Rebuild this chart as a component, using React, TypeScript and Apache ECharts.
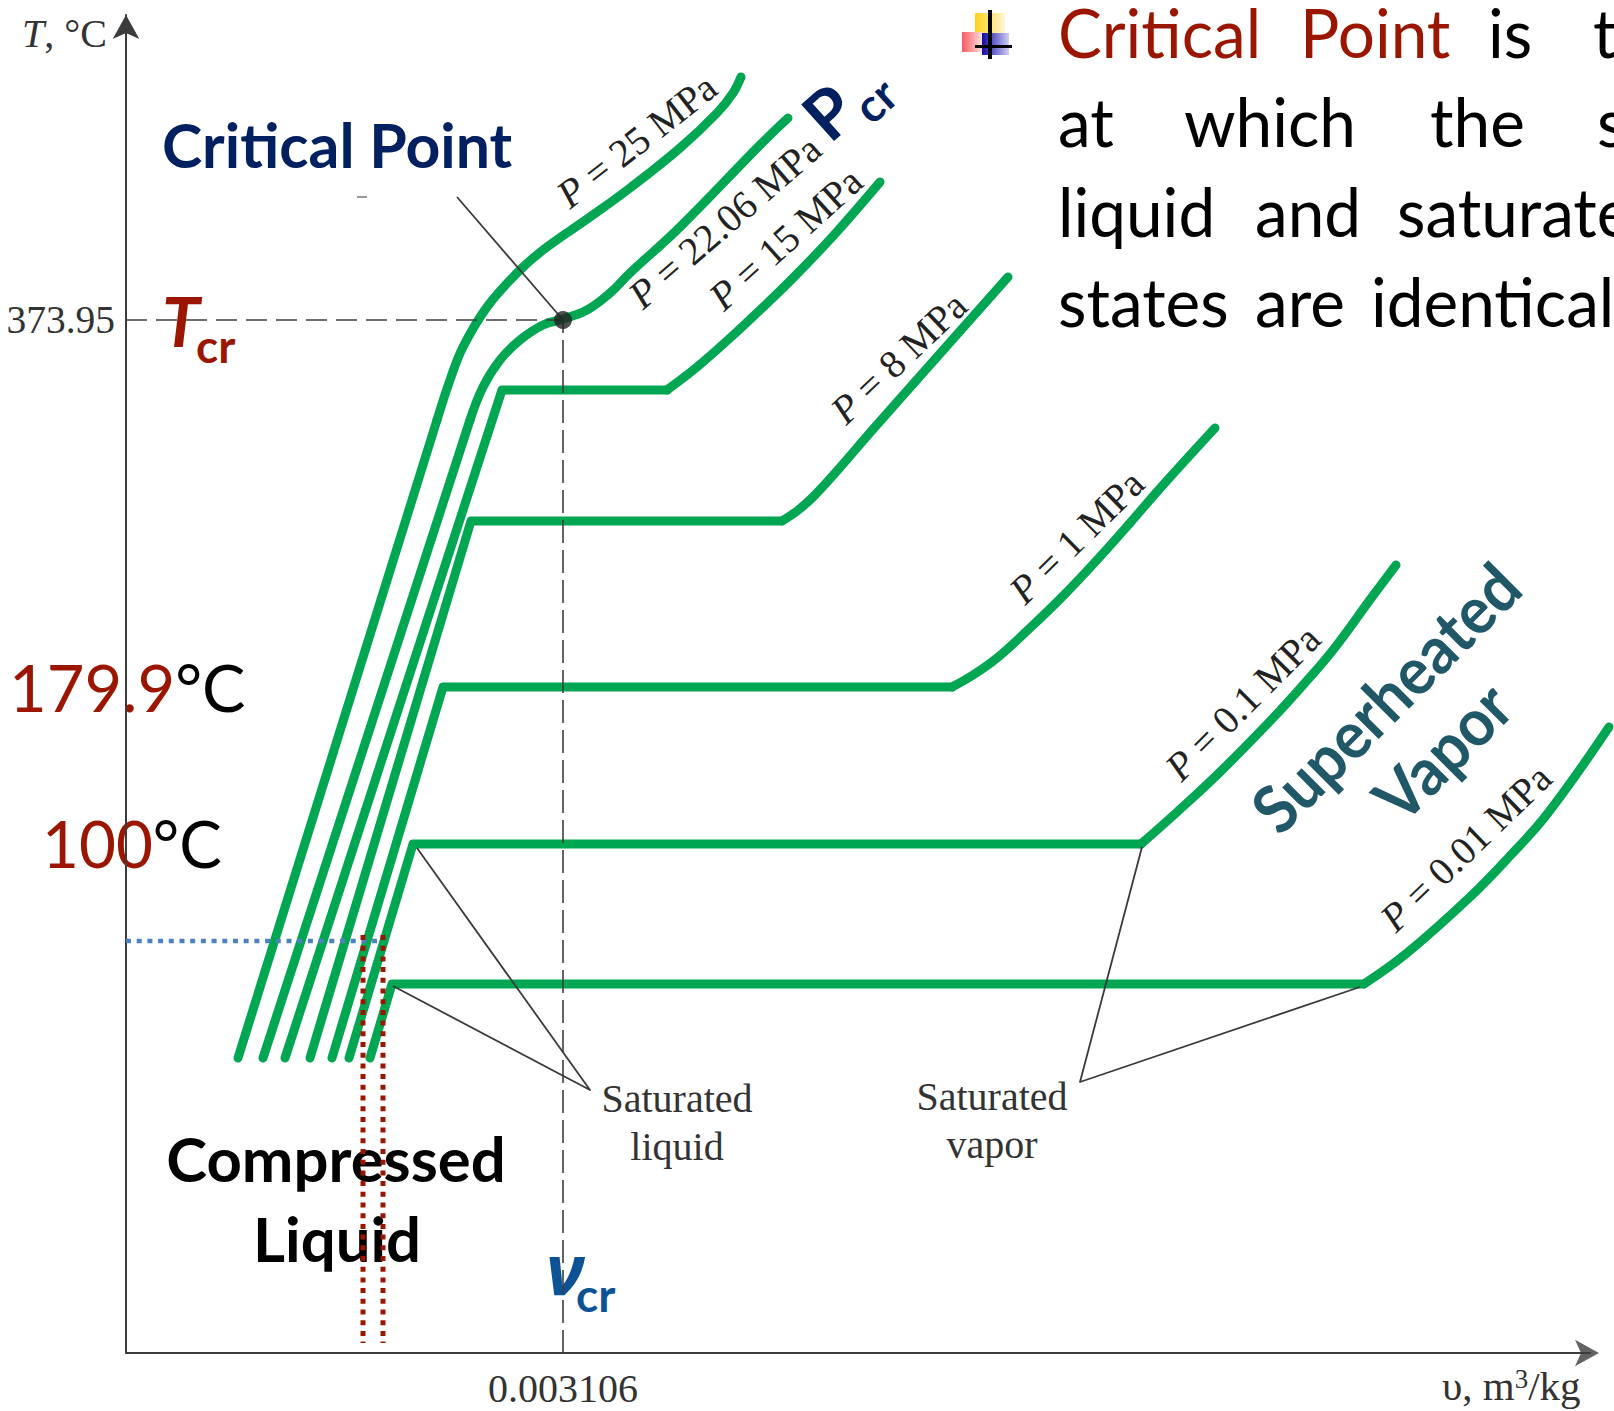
import React, { useEffect, useRef } from "react";
import * as echarts from "echarts";

// Isobars, in plot units (axis origin = 0,0). "Sharp" = compressed-liquid
// rise plus the flat saturation run; "Curve" = the smooth superheated part.
const p25Sharp = [[112, 295], [311, 933]];
const p25Curve = [[311, 933], [324, 973], [337, 1006], [361, 1046], [391, 1080], [417, 1103], [464, 1136], [504, 1165], [554, 1205], [591, 1240], [607, 1260], [615, 1276]];
const p22Sharp = [[137, 295], [344, 933]];
const p22Curve = [[344, 933], [357, 966], [374, 993], [394, 1013], [417, 1028], [437, 1034], [461, 1043], [484, 1060], [504, 1080], [554, 1126], [634, 1208], [662, 1235]];
const p15Sharp = [[159, 295], [376, 963], [541, 963]];
const p15Curve = [[541, 963], [571, 986], [604, 1015], [634, 1043], [667, 1075], [708, 1118], [754, 1171]];
const p8Sharp = [[184, 295], [345, 832], [656, 832]];
const p8Curve = [[656, 832], [671, 842], [687, 856], [710, 881], [749, 926], [882, 1076]];
const p1Sharp = [[206, 295], [317, 666], [826, 666]];
const p1Curve = [[826, 666], [847, 678], [871, 695], [904, 725], [937, 757], [971, 793], [1004, 830], [1037, 868], [1089, 925]];
const p01Sharp = [[223, 295], [287, 509], [1015, 509]];
const p01Curve = [[1015, 509], [1050, 540], [1093, 580], [1148, 636], [1178, 669], [1207, 703], [1246, 756], [1270, 788]];
const p001Sharp = [[244, 295], [266, 369], [1238, 369]];
const p001Curve = [[1238, 369], [1281, 400], [1344, 456], [1383, 496], [1422, 540], [1483, 626]];

const xAxisLine = [[0, 0], [1465, 0]];
const xAxisTip = [[1473, 0]];
const criticalPoint = [[437, 1033]];
const tcrGuide = [[0, 1033], [437, 1033]];
const vcrGuide = [[437, 0], [437, 1033]];
const criticalLeader = [[331, 1156], [437, 1033]];
const strayDash = [[231, 1156], [241, 1156]];
const blueDotted = [[0, 412], [251, 412]];
const redDottedA = [[237, 418], [237, 10]];
const redDottedB = [[257, 418], [257, 10]];
const liquidLeaders = [[291, 505], [464, 263], [267, 367]];
const vaporLeaders = [[1016, 506], [954, 271], [1234, 366]];

const xTickValues = [437];
const xTickLabels = ["0.003106"];
const yTickValues = [1033];
const yTickLabels = ["373.95"];

const isobarLabels = ["25", "22.06", "15", "8", "1", "0.1", "0.01"];
const noteLines = [
  ["Critical", "Point", "is", "t"],
  ["at", "which", "the", "s"],
  ["liquid", "and", "saturate"],
  ["states", "are", "identical"],
];

const GREEN = "#00a651";
const RED = "#9b1600";
const NAVY = "#002060";
const TEAL = "#215868";
const BLUE = "#0b5394";
const INK = "#3a3a3a";
const AXIS = "#3c3c3c";
const SANS = "Lato";
const SERIF = "Liberation Serif";

function line(name: string, data: number[][], color: string, width: number, dash: any = "solid", smooth = false, z = 2) {
  return {
    type: "line", name, data, smooth: smooth ? 0.4 : false, showSymbol: false, symbol: "none", clip: false, silent: true, z,
    lineStyle: { color, width, type: dash, cap: "round", join: "round" },
  };
}
function dotted(name: string, data: number[][], color: string, width: number, dash: any, z = 5) {
  const s: any = line(name, data, color, width, dash, false, z);
  s.lineStyle.cap = "butt";
  return s;
}

function txt(text: string, x: number, base: number, fs: number, o: any = {}) {
  const family = o.family || SANS;
  const k = family === SERIF ? 0.337 : 0.387;
  return {
    type: "text", x, y: base - k * fs, scaleX: o.sx ?? 1, rotation: o.rot ? (o.rot * Math.PI) / 180 : 0, silent: true, z: 0,
    style: {
      text, fontFamily: family, fontSize: fs, fontWeight: o.weight || "normal", fontStyle: o.style || "normal",
      fill: o.fill || "#000", align: o.align || "left", verticalAlign: "middle", rich: o.rich,
    },
  };
}
function rotated(text: string, x: number, y: number, fs: number, rot: number, o: any = {}) {
  return {
    type: "text", x, y, rotation: (rot * Math.PI) / 180, scaleX: o.sx ?? 1, silent: true, z: 0,
    style: {
      text, fontFamily: o.family || SANS, fontSize: fs, fontWeight: o.weight || "normal", fill: o.fill || "#000",
      align: "center", verticalAlign: "middle", rich: o.rich,
    },
  };
}
function isobar(value: string, x: number, y: number, rot: number) {
  return rotated(`{i|P} = ${value} MPa`, x, y, 39.5, rot, {
    family: SERIF, fill: "#222",
    rich: { i: { fontStyle: "italic", fontFamily: SERIF, fontSize: 39.5, fill: "#222", fontWeight: "normal" } },
  });
}
function grad(a: string, b: string) {
  return { type: "linear", x: 0, y: 0, x2: 1, y2: 0, colorStops: [{ offset: 0, color: a }, { offset: 1, color: b }] };
}

export default function App() {
  const ref = useRef<HTMLDivElement>(null);
  useEffect(() => {
    const chart = echarts.init(ref.current!, null, { renderer: "svg" });
    const wordX = [
      [1058, 1300, 1488, 1593],
      [1058, 1184, 1430, 1597],
      [1058, 1255, 1397],
      [1058, 1255, 1371],
    ];
    const noteBase = [58, 147, 237, 327];
    const words: any[] = [];
    noteLines.forEach((ws, i) =>
      ws.forEach((w, j) =>
        words.push(txt(w, wordX[i][j], noteBase[i], 67, { sx: 0.98, fill: i === 0 && j < 2 ? RED : "#000" }))
      )
    );
    const isoPos = [
      [637, 141, 38],
      [725, 222, 41],
      [786, 239, 42],
      [899, 358, 43.5],
      [1077, 537, 44.5],
      [1243, 703, 45],
      [1466, 848, 44],
    ];
    chart.setOption({
      animation: false,
      backgroundColor: "#fff",
      grid: { left: 126, top: 15, width: 1488, height: 1338 },
      xAxis: {
        type: "value", min: 0, max: 1488, splitLine: { show: false }, axisTick: { show: false }, axisLine: { show: false },
        axisLabel: {
          customValues: xTickValues, margin: 15, fontFamily: SERIF, fontSize: 40, color: "#333",
          formatter: (v: number) => xTickLabels[xTickValues.indexOf(v)] ?? "",
        },
      },
      yAxis: {
        type: "value", min: 0, max: 1338, splitLine: { show: false }, axisTick: { show: false },
        axisLine: { show: true, symbol: ["none", "arrow"], symbolSize: [20, 24], lineStyle: { color: AXIS, width: 2 } },
        axisLabel: {
          customValues: yTickValues, margin: 11, fontFamily: SERIF, fontSize: 39.5, color: "#333",
          formatter: (v: number) => yTickLabels[yTickValues.indexOf(v)] ?? "",
        },
      },
      series: [
        line("P25 liquid", p25Sharp, GREEN, 9),
        line("P25 vapor", p25Curve, GREEN, 9, "solid", true),
        line("P22 liquid", p22Sharp, GREEN, 9),
        line("P22 vapor", p22Curve, GREEN, 9, "solid", true),
        line("P15 liquid", p15Sharp, GREEN, 9),
        line("P15 vapor", p15Curve, GREEN, 9, "solid", true),
        line("P8 liquid", p8Sharp, GREEN, 9),
        line("P8 vapor", p8Curve, GREEN, 9, "solid", true),
        line("P1 liquid", p1Sharp, GREEN, 9),
        line("P1 vapor", p1Curve, GREEN, 9, "solid", true),
        line("P0.1 liquid", p01Sharp, GREEN, 9),
        line("P0.1 vapor", p01Curve, GREEN, 9, "solid", true),
        line("P0.01 liquid", p001Sharp, GREEN, 9),
        line("P0.01 vapor", p001Curve, GREEN, 9, "solid", true),
        dotted("x axis", xAxisLine, AXIS, 2, "solid", 3),
        {
          type: "scatter", name: "x axis arrow", data: xAxisTip, symbol: "arrow", symbolSize: [20, 24], symbolRotate: -90, silent: true, z: 3, clip: false,
          itemStyle: { color: AXIS },
        },
        dotted("Tcr guide", tcrGuide, "#3f3f3f", 1.6, [21, 9], 4),
        dotted("vcr guide", vcrGuide, "#3f3f3f", 1.6, [23, 7], 4),
        dotted("critical leader", criticalLeader, INK, 1.8, "solid", 4),
        dotted("stray dash", strayDash, "#555", 1.2, "solid", 4),
        dotted("liquid leaders", liquidLeaders, INK, 1.8, "solid", 4),
        dotted("vapor leaders", vaporLeaders, INK, 1.8, "solid", 4),
        dotted("blue dotted", blueDotted, "#4f81bd", 4.5, [5, 5.7]),
        dotted("red dotted A", redDottedA, RED, 5, [5, 5.7]),
        dotted("red dotted B", redDottedB, RED, 5, [5, 5.7]),
        {
          type: "scatter", name: "critical point", data: criticalPoint, symbol: "circle", symbolSize: 18, silent: true, z: 6, clip: false,
          itemStyle: { color: "#222" },
        },
      ],
      graphic: {
        elements: [
          { type: "rect", silent: true, z: 0, shape: { x: 975, y: 13, width: 30, height: 21 }, style: { fill: grad("#ffd21a", "#fff6d5") } },
          { type: "rect", silent: true, z: 0, shape: { x: 962, y: 32, width: 21, height: 20 }, style: { fill: grad("#fb5a60", "#fde4e6") } },
          { type: "rect", silent: true, z: 0, shape: { x: 982, y: 33, width: 27, height: 22 }, style: { fill: grad("#1208a8", "#cfcff3") } },
          { type: "rect", silent: true, z: 0, shape: { x: 988, y: 10, width: 4, height: 49 }, style: { fill: "#000" } },
          { type: "rect", silent: true, z: 0, shape: { x: 975, y: 45, width: 37, height: 3 }, style: { fill: "#000" } },

          ...words,

          txt("{i|T}, °C", 22, 47, 40, {
            family: SERIF, fill: "#333",
            rich: { i: { fontStyle: "italic", fontFamily: SERIF, fontSize: 40, fill: "#333" } },
          }),
          txt("{i|υ}, m{s|3}/kg", 1442, 1400, 41, {
            family: SERIF, fill: "#333",
            rich: {
              i: { fontFamily: SERIF, fontSize: 41, fill: "#333" },
              s: { fontFamily: SERIF, fontSize: 27, fill: "#333", verticalAlign: "top", lineHeight: 30 },
            },
          }),

          txt("Critical Point", 162, 168, 62, { weight: "bold", fill: NAVY, sx: 0.98 }),
          txt("T", 162, 347, 68, { weight: "bold", style: "italic", fill: RED }),
          txt("cr", 196, 363, 46, { weight: "bold", fill: RED }),
          rotated("P", 828, 111, 68, 42, { weight: "bold", fill: NAVY }),
          rotated("cr", 875, 100, 46, 42, { weight: "bold", fill: NAVY }),

          txt("{r|179.9}°C", 9, 712, 65, { sx: 1, rich: { r: { fontFamily: SANS, fontSize: 65, fill: RED } } }),
          txt("{r|100}°C", 42, 868, 65, { sx: 0.98, rich: { r: { fontFamily: SANS, fontSize: 65, fill: RED } } }),

          txt("Compressed", 336, 1182, 62, { weight: "bold", align: "center", sx: 0.995 }),
          txt("Liquid", 337, 1262, 62, { weight: "bold", align: "center", sx: 0.995 }),

          txt("ν", 546, 1295, 70, { family: "Open Sans", weight: "bold", style: "italic", fill: BLUE }),
          txt("cr", 576, 1312, 46, { weight: "bold", fill: BLUE }),

          txt("Saturated", 677, 1112, 40, { family: SERIF, align: "center", fill: "#333" }),
          txt("liquid", 677, 1160, 40, { family: SERIF, align: "center", fill: "#333" }),
          txt("Saturated", 992, 1110, 40, { family: SERIF, align: "center", fill: "#333" }),
          txt("vapor", 992, 1158, 40, { family: SERIF, align: "center", fill: "#333" }),

          rotated("Superheated", 1385, 697, 66, 45, { weight: "bold", fill: TEAL, sx: 0.93 }),
          rotated("Vapor", 1442, 751, 66, 45, { weight: "bold", fill: TEAL, sx: 0.93 }),

          ...isobarLabels.map((v, i) => isobar(v, isoPos[i][0], isoPos[i][1], isoPos[i][2])),
        ],
      },
    });
    return () => chart.dispose();
  }, []);
  return <div ref={ref} style={{ position: "absolute", left: 0, top: 0, width: 1614, height: 1411 }} />;
}
